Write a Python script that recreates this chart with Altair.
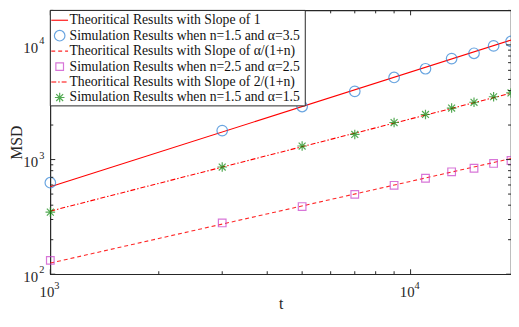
import altair as alt
import pandas as pd

# ---- data ----
t_sim = [1000, 3000, 5000, 7000, 9000, 11000, 13000, 15000, 17000, 19000]
msd_circle = [628, 1790, 2900, 3935, 5200, 6195, 7600, 8450, 9800, 10720]   # n=1.5, a=3.5
msd_square = [132, 280, 389, 497, 596, 687, 782, 840, 925, 981]             # n=2.5, a=2.5
msd_star = [348, 861, 1312, 1656, 2104, 2472, 2812, 3160, 3530, 3810]       # n=1.5, a=1.5

t_line = [1000, 19000]
line_slope1 = [580, 11020]
line_slope_a = [125, 1020]
line_slope_2 = [355, 3790]

x_major = [1000, 10000]
x_exp = ["3", "4"]
x_minor = [2000, 3000, 4000, 5000, 6000, 7000, 8000, 9000]
y_major = [100, 1000, 10000]
y_exp = ["2", "3", "4"]
y_minor = [200, 300, 400, 500, 600, 700, 800, 900,
           2000, 3000, 4000, 5000, 6000, 7000, 8000, 9000, 20000]

legend_labels = [
    "Theoritical Results with Slope of 1",
    "Simulation Results when n=1.5 and α=3.5",
    "Theoritical Results with Slope of α/(1+n)",
    "Simulation Results when n=2.5 and α=2.5",
    "Theoritical Results with Slope of 2/(1+n)",
    "Simulation Results when n=1.5 and α=1.5",
]

W, H = 468, 268
FONT = "Liberation Serif"
AX = "#262626"
RED = "#ff0000"
BLUE = "#2a7fd4"
MAG = "#c83cc8"
GREEN = "#0a870a"
STAR = "M0,-1L0,1M-1,0L1,0M-0.72,-0.72L0.72,0.72M-0.72,0.72L0.72,-0.72"

xs = alt.Scale(type="log", domain=[1000, 19000], nice=False)
ys = alt.Scale(type="log", domain=[100, 20000], nice=False)

sim = pd.DataFrame({"t": t_sim, "c": msd_circle, "s": msd_square, "a": msd_star})
lines = pd.DataFrame({"t": t_line, "l1": line_slope1, "la": line_slope_a, "l2": line_slope_2})

x_axis = alt.Axis(values=x_major, ticks=False, domain=False, grid=False, labels=False,
                  title="t", titleFont=FONT, titleFontSize=16, titleFontWeight="normal",
                  titleColor=AX, titlePadding=22)
y_axis = alt.Axis(values=y_major, ticks=False, domain=False, grid=False, labels=False,
                  title="MSD", titleFont=FONT, titleFontSize=16, titleFontWeight="normal",
                  titleColor=AX, titlePadding=26)


def X(field):
    return alt.X(field, scale=xs, axis=x_axis)


def Y(field):
    return alt.Y(field, scale=ys, axis=y_axis)


base = alt.Chart(lines)
l1 = base.mark_line(color=RED, strokeWidth=1.1).encode(x=X("t:Q"), y=Y("l1:Q"))
la = base.mark_line(color=RED, strokeWidth=1.1, strokeDash=[4, 3], opacity=0.85).encode(
    x=X("t:Q"), y=Y("la:Q"))
l2 = base.mark_line(color=RED, strokeWidth=1.1, strokeDash=[5, 2, 1.5, 2]).encode(
    x=X("t:Q"), y=Y("l2:Q"))

sb = alt.Chart(sim)
pc = sb.mark_point(shape="circle", filled=False, color=BLUE, size=115, strokeWidth=1.2).encode(
    x=X("t:Q"), y=Y("c:Q"))
ps = sb.mark_point(shape="square", filled=False, color=MAG, size=60, strokeWidth=1.2).encode(
    x=X("t:Q"), y=Y("s:Q"))
pa = sb.mark_point(shape=STAR, filled=False, color=GREEN, size=95, strokeWidth=1.2).encode(
    x=X("t:Q"), y=Y("a:Q"))


# ---- inward ticks on all four sides ----
def xticks(vals, length):
    d = alt.Chart(pd.DataFrame({"t": vals}))
    bot = d.mark_rule(color=AX, strokeWidth=1).encode(
        x=X("t:Q"), y=alt.value(H), y2=alt.value(H - length))
    top = d.mark_rule(color=AX, strokeWidth=1).encode(
        x=X("t:Q"), y=alt.value(0), y2=alt.value(length))
    return [bot, top]


def yticks(vals, length):
    d = alt.Chart(pd.DataFrame({"m": vals}))
    left = d.mark_rule(color=AX, strokeWidth=1).encode(
        y=Y("m:Q"), x=alt.value(0), x2=alt.value(length))
    right = d.mark_rule(color=AX, strokeWidth=1).encode(
        y=Y("m:Q"), x=alt.value(W), x2=alt.value(W - length))
    return [left, right]


tick_layers = xticks(x_major, 5) + xticks(x_minor, 3) + yticks(y_major, 5) + yticks(y_minor, 3)

# ---- tick labels as 10 with a raised exponent ----
xl = alt.Chart(pd.DataFrame({"t": x_major, "e": x_exp, "b": ["10", "10"]}))
xl_base = xl.mark_text(align="right", baseline="middle", font=FONT, fontSize=15,
                       color=AX, dx=4).encode(x=X("t:Q"), y=alt.value(H + 18), text="b:N")
xl_exp = xl.mark_text(align="left", baseline="middle", font=FONT, fontSize=10.5,
                      color=AX, dx=4).encode(x=X("t:Q"), y=alt.value(H + 12), text="e:N")
yl = alt.Chart(pd.DataFrame({"m": y_major, "e": y_exp, "b": ["10", "10", "10"]}))
yl_base = yl.mark_text(align="right", baseline="middle", font=FONT, fontSize=15,
                       color=AX, dy=3).encode(x=alt.value(-12.5), y=Y("m:Q"), text="b:N")
yl_exp = yl.mark_text(align="right", baseline="middle", font=FONT, fontSize=10.5,
                      color=AX, dy=-4).encode(x=alt.value(-6), y=Y("m:Q"), text="e:N")
label_layers = [xl_base, xl_exp, yl_base, yl_exp]

# ---- legend box (top-left, inside) ----
leg = pd.DataFrame({"label": legend_labels, "i": list(range(6))})
legc = alt.Chart(leg).transform_calculate(py="10 + 15.7 * datum.i")
box = alt.Chart(pd.DataFrame({"a": [0]})).mark_rect(
    fill="white", stroke=AX, strokeWidth=1).encode(
    x=alt.value(0), x2=alt.value(259), y=alt.value(0), y2=alt.value(97))
leg_text = legc.mark_text(align="left", baseline="middle", font=FONT, fontSize=13.9,
                          color="#111111").encode(
    x=alt.value(19.5), y=alt.Y("py:Q", scale=None, axis=None), text="label:N")


def leg_line(i, dash=None, op=1.0):
    kw = dict(color=RED, strokeWidth=1.1, opacity=op)
    if dash:
        kw["strokeDash"] = dash
    return alt.Chart(pd.DataFrame({"a": [0]})).mark_rule(**kw).encode(
        x=alt.value(1), x2=alt.value(18), y=alt.value(10 + 15.7 * i))


def leg_pt(i, shape, color, size):
    return alt.Chart(pd.DataFrame({"a": [0]})).mark_point(
        shape=shape, filled=False, color=color, size=size, strokeWidth=1.2).encode(
        x=alt.value(9.5), y=alt.value(10 + 15.7 * i))


legend_layers = [box, leg_text,
                 leg_line(0), leg_pt(1, "circle", BLUE, 115),
                 leg_line(2, [4, 3], 0.85), leg_pt(3, "square", MAG, 60),
                 leg_line(4, [5, 2, 1.5, 2]), leg_pt(5, STAR, GREEN, 95)]

chart = alt.layer(l1, la, l2, pc, ps, pa, *tick_layers, *label_layers,
                  *legend_layers).properties(
    width=W, height=H,
    autosize=alt.AutoSizeParams(type="none"),
    padding={"left": 43, "top": 0, "right": 0, "bottom": 38},
    background="white",
).configure_view(stroke=AX, strokeWidth=1.2)

chart.save("out.html", embed_options={"renderer": "svg", "actions": False})
